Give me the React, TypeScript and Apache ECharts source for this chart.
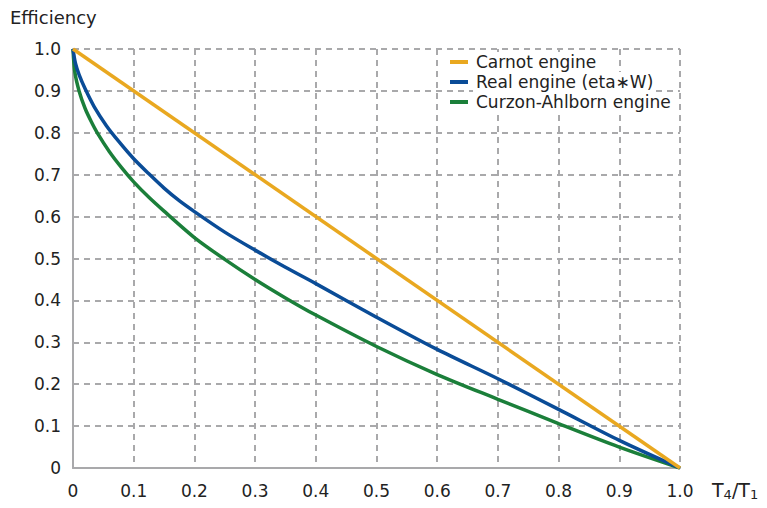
import React, { useEffect, useRef } from "react";
import * as echarts from "echarts";

const seriesNames = ["Carnot engine", "Real engine (eta\u2217W)", "Curzon-Ahlborn engine"];
const colors = ["#E9A820", "#0A4C97", "#1B7F3A"];

const carnotX = [0, 1];
const carnotY = [1, 0];

const realX = [0, 0.004, 0.01, 0.02, 0.035, 0.055, 0.075, 0.1, 0.125, 0.15, 0.175, 0.2, 0.25, 0.3, 0.35, 0.4, 0.5, 0.6, 0.7, 0.8, 0.9, 1.0];
const realY = [1, 0.966, 0.939, 0.905, 0.862, 0.817, 0.78, 0.738, 0.702, 0.668, 0.638, 0.612, 0.563, 0.52, 0.479, 0.44, 0.36, 0.283, 0.213, 0.14, 0.066, 0];

const caX = [0, 0.003, 0.01, 0.02, 0.03, 0.04, 0.06, 0.08, 0.1, 0.125, 0.15, 0.2, 0.25, 0.3, 0.35, 0.4, 0.5, 0.6, 0.7, 0.8, 0.9, 1.0];
const caY = [1, 0.945, 0.9, 0.858, 0.827, 0.8, 0.755, 0.717, 0.683, 0.646, 0.613, 0.55, 0.498, 0.45, 0.406, 0.365, 0.29, 0.223, 0.164, 0.106, 0.05, 0];

const FONT = "DejaVu Sans";

function zip(xs: number[], ys: number[]) {
  return xs.map((x, i) => [x, ys[i]]);
}

export default function App() {
  const ref = useRef<HTMLDivElement>(null);
  useEffect(() => {
    if (!ref.current) return;
    const chart = echarts.init(ref.current, null, { renderer: "svg" });
    const fmt = (v: number) => (v === 0 ? "0" : v.toFixed(1));
    const data = [zip(carnotX, carnotY), zip(realX, realY), zip(caX, caY)];
    chart.setOption({
      animation: false,
      backgroundColor: "#fff",
      textStyle: { fontFamily: FONT },
      grid: { left: 73, right: 87, top: 49, bottom: 40 },
      xAxis: {
        type: "value",
        min: 0,
        max: 1,
        interval: 0.1,
        axisLine: { show: true, lineStyle: { color: "#a9a9ab", width: 2 } },
        axisTick: { show: false },
        axisLabel: { formatter: fmt, color: "#222", fontSize: 17, fontFamily: FONT, margin: 14 },
        splitLine: { show: true, lineStyle: { color: "#a9a9ab", width: 2, type: [6, 5] } },
      },
      yAxis: {
        type: "value",
        min: 0,
        max: 1,
        interval: 0.1,
        axisLine: { show: true, lineStyle: { color: "#a9a9ab", width: 2 } },
        axisTick: { show: false },
        axisLabel: { formatter: fmt, color: "#222", fontSize: 17, fontFamily: FONT, margin: 12 },
        splitLine: { show: true, lineStyle: { color: "#a9a9ab", width: 2, type: [6, 5] } },
      },
      legend: {
        orient: "vertical",
        left: 445,
        top: 47,
        itemWidth: 18,
        itemHeight: 4,
        itemGap: 0,
        icon: "rect",
        data: seriesNames,
        textStyle: {
          fontSize: 17,
          lineHeight: 20,
          color: "#222",
          fontFamily: FONT,
          backgroundColor: "#fff",
          padding: [0, 2, 0, 3],
        },
      },
      series: seriesNames.map((name, i) => ({
        name,
        type: "line",
        data: data[i],
        smooth: i === 0 ? false : 0.3,
        showSymbol: false,
        symbol: "none",
        lineStyle: { color: colors[i], width: 3.5 },
        itemStyle: { color: colors[i] },
        z: 5 - i,
      })),
      graphic: [
        {
          type: "text",
          left: 10,
          top: 8,
          style: { text: "Efficiency", fontSize: 18, fill: "#222", fontFamily: FONT },
        },
        {
          type: "text",
          left: 712,
          top: 480,
          style: {
            text: "T{s|4}/T{s|1}",
            fontSize: 19,
            fill: "#222",
            fontFamily: FONT,
            rich: { s: { fontSize: 13, fontFamily: FONT, fill: "#222", padding: [9, 0, 0, 0] } },
          },
        },
      ],
    });
    return () => chart.dispose();
  }, []);
  return (
    <div
      ref={ref}
      style={{ position: "fixed", left: 0, top: 0, width: 767, height: 508 }}
    />
  );
}
